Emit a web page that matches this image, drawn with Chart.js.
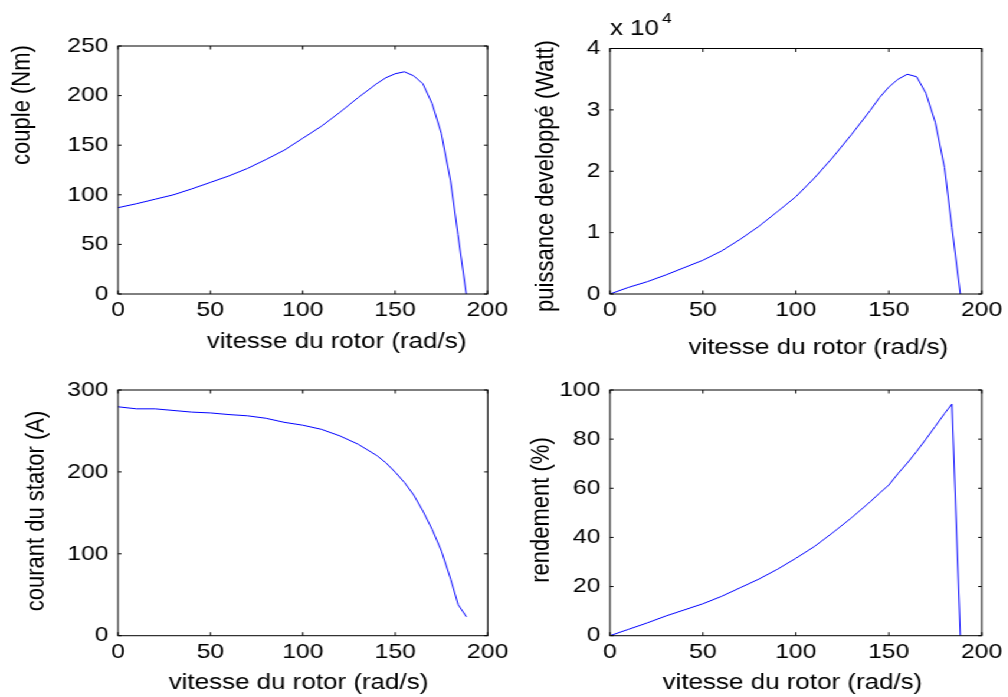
<!DOCTYPE html>
<html>
<head>
<meta charset="utf-8">
<title>Caractéristiques du moteur asynchrone</title>
<script src="https://cdn.jsdelivr.net/npm/chart.js@4.4.0/dist/chart.umd.min.js"></script>
<style>
  html, body { margin: 0; padding: 0; background: #fff; overflow: hidden; }
  /* the figure is drawn on a narrower page and stretched sideways */
  #figure { position: absolute; left: 0; top: 0; width: 854px; height: 697px;
            transform: scaleX(1.18); transform-origin: 0 0; }
  #figure canvas { position: absolute; left: 0; top: 0; }
</style>
</head>
<body>
<div id="figure">
  <canvas id="couple" width="854" height="697"></canvas>
  <canvas id="puissance" width="854" height="697"></canvas>
  <canvas id="courant" width="854" height="697"></canvas>
  <canvas id="rendement" width="854" height="697"></canvas>
</div>
<script>
// rotor speed (rad/s)
const speed = [0, 10, 20, 30, 40, 50, 60, 70, 80, 90, 100, 110, 120, 130, 140,
               145, 150, 155, 160, 165, 170, 175, 180, 184, 188.5];
// torque (Nm)
const torque = [87, 91, 95.5, 100, 106, 112.5, 119, 126.5, 135.5, 145, 157, 169, 183, 198, 212,
                218, 222, 224, 220, 212, 192, 162, 114, 60, 0];
// developed power (W)
const power = [0, 1080, 2000, 3100, 4300, 5500, 7000, 8900, 11000, 13400, 15850, 18900, 22300, 26000, 29900,
               32000, 33700, 35000, 35800, 35400, 32700, 28000, 20600, 10800, 0];
// stator current (A)
const current = [279.5, 277, 277, 275, 273, 272, 270, 268.5, 265.5, 260.5, 257, 252, 244, 233.7, 220,
                 211, 199.6, 187, 171.7, 152, 129.5, 103.3, 68.8, 38, 23];
// efficiency (%)
const efficiency = [0, 2.6, 5.2, 8, 10.5, 13, 16, 19.5, 23, 27, 31.5, 36.3, 42, 48, 54.5,
                    58, 61.3, 66, 70.3, 75, 80, 85.2, 90.4, 94.3, 0];

// tick values and labels
const speedTicks = [0, 50, 100, 150, 200];
const torqueTicks = [0, 50, 100, 150, 200, 250];
const powerTicks = [0, 10000, 20000, 30000, 40000];
const powerTickLabels = ['0', '1', '2', '3', '4'];
const currentTicks = [0, 100, 200, 300];
const efficiencyTicks = [0, 20, 40, 60, 80, 100];

const S = 1.18;          // horizontal stretch of #figure
const W = 854, H = 697;  // canvas size before stretching
const Y_AXIS_W = 70, X_AXIS_H = 40;
const FONT = '"Liberation Sans", Arial, Helvetica, sans-serif';

Chart.defaults.font.family = FONT;
Chart.defaults.color = '#000';

// box, inward ticks on all four sides, and axis labels
const matlabAxes = {
  id: 'matlabAxes',
  afterDraw(chart, args, opts) {
    const { ctx, chartArea: a } = chart;
    const xs = chart.scales.x, ys = chart.scales.y;
    const tlx = 3.5 / S, tly = 3.5;
    ctx.save();
    ctx.strokeStyle = '#000';
    ctx.lineWidth = 1;
    ctx.strokeRect(a.left, a.top, a.right - a.left, a.bottom - a.top);
    ctx.beginPath();
    xs.ticks.forEach(t => {
      const px = xs.getPixelForValue(t.value);
      ctx.moveTo(px, a.bottom); ctx.lineTo(px, a.bottom - tly);
      ctx.moveTo(px, a.top); ctx.lineTo(px, a.top + tly);
    });
    ys.ticks.forEach(t => {
      const py = ys.getPixelForValue(t.value);
      ctx.moveTo(a.left, py); ctx.lineTo(a.left + tlx, py);
      ctx.moveTo(a.right, py); ctx.lineTo(a.right - tlx, py);
    });
    ctx.stroke();

    ctx.fillStyle = '#000';
    ctx.font = `22px ${FONT}`;
    ctx.textAlign = 'center';
    ctx.textBaseline = 'middle';
    ctx.fillText(opts.xlabel, opts.xAt[0] / S, opts.xAt[1]);

    ctx.save();
    ctx.translate(opts.yAt[0] / S, opts.yAt[1]);
    ctx.rotate(-Math.PI / 2);
    ctx.fillText(opts.ylabel, 0, 0);
    ctx.restore();

    if (opts.exponent) {
      const e = opts.exponent;
      ctx.textAlign = 'left';
      ctx.textBaseline = 'alphabetic';
      ctx.font = `22px ${FONT}`;
      ctx.fillText('x 10', e.at[0] / S, e.at[1]);
      ctx.font = `15px ${FONT}`;
      ctx.fillText(e.power, e.supAt[0] / S, e.supAt[1]);
    }
    ctx.restore();
  }
};

function makeChart(id, cfg) {
  const [l, t, r, b] = cfg.box;
  const yTicks = cfg.yTicks;
  return new Chart(document.getElementById(id), {
    type: 'line',
    data: {
      datasets: [{
        data: speed.map((x, i) => ({ x, y: cfg.values[i] })),
        borderColor: '#0000ff',
        borderWidth: 1,
        pointRadius: 0,
        tension: 0,
        fill: false
      }]
    },
    options: {
      responsive: false,
      animation: false,
      events: [],
      layout: {
        padding: {
          left: l / S - Y_AXIS_W,
          right: W - r / S,
          top: t,
          bottom: H - b - X_AXIS_H
        }
      },
      plugins: {
        legend: { display: false },
        tooltip: { enabled: false },
        matlabAxes: cfg.labels
      },
      scales: {
        x: {
          type: 'linear',
          min: 0,
          max: 200,
          afterFit: s => { s.height = X_AXIS_H; },
          afterBuildTicks: s => { s.ticks = speedTicks.map(v => ({ value: v })); },
          grid: { display: false, drawTicks: false },
          border: { display: false },
          ticks: { font: { size: 21 }, padding: 4, maxRotation: 0, autoSkip: false }
        },
        y: {
          type: 'linear',
          min: yTicks[0],
          max: yTicks[yTicks.length - 1],
          afterFit: s => { s.width = Y_AXIS_W; },
          afterBuildTicks: s => { s.ticks = yTicks.map(v => ({ value: v })); },
          grid: { display: false, drawTicks: false },
          border: { display: false },
          ticks: {
            font: { size: 21 },
            padding: 8,
            autoSkip: false,
            callback: (v, i) => cfg.yTickLabels ? cfg.yTickLabels[i] : String(v)
          }
        }
      }
    },
    plugins: [matlabAxes]
  });
}

makeChart('couple', {
  box: [118, 46, 487.5, 294],
  values: torque,
  yTicks: torqueTicks,
  labels: { xlabel: 'vitesse du rotor (rad/s)', xAt: [336.5, 342],
            ylabel: 'couple (Nm)', yAt: [22, 105] }
});

makeChart('puissance', {
  box: [610, 48.5, 981.7, 294],
  values: power,
  yTicks: powerTicks,
  yTickLabels: powerTickLabels,
  labels: { xlabel: 'vitesse du rotor (rad/s)', xAt: [818.5, 348],
            ylabel: 'puissance developpé (Watt)', yAt: [546, 176],
            exponent: { power: '4', at: [610, 35], supAt: [662, 23] } }
});

makeChart('courant', {
  box: [118, 390, 487.7, 635.7],
  values: current,
  yTicks: currentTicks,
  labels: { xlabel: 'vitesse du rotor (rad/s)', xAt: [298.5, 682.5],
            ylabel: 'courant du stator (A)', yAt: [37, 511] }
});

makeChart('rendement', {
  box: [610, 390, 981.7, 635.7],
  values: efficiency,
  yTicks: efficiencyTicks,
  labels: { xlabel: 'vitesse du rotor (rad/s)', xAt: [792.5, 682.5],
            ylabel: 'rendement (%)', yAt: [542, 510] }
});
</script>
</body>
</html>
